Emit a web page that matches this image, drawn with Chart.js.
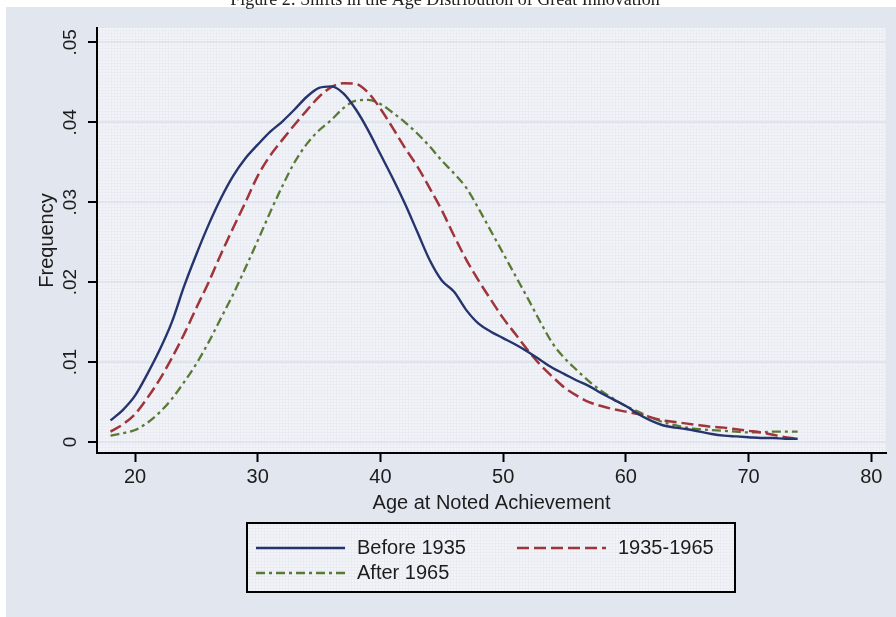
<!DOCTYPE html>
<html>
<head>
<meta charset="utf-8">
<script src="https://cdn.jsdelivr.net/npm/chart.js@4/dist/chart.umd.min.js"></script>
<style>
  html, body { margin: 0; padding: 0; background: #fff; }
</style>
</head>
<body>
<canvas id="graph" width="896" height="617"></canvas>
<script>
// ages on the x axis, one point per year
const ages = [18,19,20,21,22,23,24,25,26,27,28,29,30,31,32,33,34,35,36,37,38,39,40,41,42,43,44,45,46,
  47,48,49,50,51,52,53,54,55,56,57,58,59,60,61,62,63,64,65,66,67,68,69,70,71,72,73,74]

const before1935 = [.0027,.0040,.0058,.0085,.0115,.0150,.0195,.0235,.0272,.0305,.0333,.0355,.0372,.0388,
  .0401,.0416,.0432,.0443,.0445,.0436,.0416,.0390,.0360,.0330,.0298,.0263,.0228,.0202,.0188,.0165,.0148,
  .0138,.0130,.0122,.0113,.0103,.0093,.0085,.0077,.0070,.0061,.0053,.0045,.0035,.0027,.0021,.0018,.0016,
  .0013,.0010,.0008,.0007,.0006,.0005,.0005,.0004,.0004]

const from1935to1965 = [.0013,.0022,.0035,.0055,.0078,.0105,.0135,.0168,.0200,.0235,.0268,.0300,.0333,.0358,
  .0378,.0397,.0415,.0432,.0444,.0449,.0448,.0437,.0417,.0393,.0368,.0345,.0318,.0290,.0258,.0228,.0202,
  .0178,.0155,.0135,.0115,.0097,.0082,.0068,.0058,.0050,.0045,.0041,.0038,.0035,.0031,.0027,.0025,.0023,
  .0021,.0019,.0018,.0016,.0014,.0012,.0009,.0006,.0004]

const after1965 = [.0008,.0011,.0015,.0024,.0037,.0054,.0075,.0098,.0125,.0155,.0185,.0218,.0252,.0287,
  .0320,.0350,.0373,.0390,.0403,.0418,.0427,.0428,.0423,.0412,.0400,.0386,.0370,.0352,.0336,.0318,.0292,
  .0264,.0236,.0208,.0180,.0151,.0124,.0105,.0090,.0076,.0064,.0054,.0045,.0038,.0031,.0025,.0021,.0018,
  .0016,.0015,.0014,.0013,.0012,.0012,.0013,.0013,.0013]

const seriesLabels = ['Before 1935', '1935-1965', 'After 1965']
const xTicks = [20, 30, 40, 50, 60, 70, 80]
const yTicks = [0, .01, .02, .03, .04, .05]

const titleText = 'Figure 2: Shifts in the Age Distribution of Great Innovation'

Chart.defaults.font.family = "'Liberation Sans', Arial, sans-serif"
Chart.defaults.font.size = 20
Chart.defaults.color = '#1c1c1c'

// fine grid texture of the plot region
function makePattern(ctx) {
  let c = document.createElement('canvas')
  c.width = 3
  c.height = 3
  let p = c.getContext('2d')
  p.fillStyle = 'rgb(242,244,248)'
  p.fillRect(0, 0, 3, 3)
  p.fillStyle = 'rgb(233,236,243)'
  p.fillRect(0, 0, 1, 3)
  p.fillRect(0, 0, 3, 1)
  return ctx.createPattern(c, 'repeat')
}

const backdrop = {
  id: 'backdrop',
  beforeDraw(chart) {
    let ctx = chart.ctx
    let a = chart.chartArea
    ctx.save()
    ctx.fillStyle = '#fff'
    ctx.fillRect(0, 0, chart.width, chart.height)
    ctx.fillStyle = 'rgb(226,230,239)'
    ctx.fillRect(6, 7, chart.width - 6, chart.height - 7)
    ctx.fillStyle = makePattern(ctx)
    ctx.fillRect(a.left, a.top, a.right - a.left, a.bottom - a.top)
    // caption, cut off at the top of the picture
    ctx.fillStyle = '#222'
    ctx.font = "18px 'Liberation Serif', 'Times New Roman', serif"
    ctx.textAlign = 'center'
    ctx.textBaseline = 'alphabetic'
    ctx.fillText(titleText, 445, 5)
    ctx.restore()
  }
}

// boxed legend, two columns
const boxLegend = {
  id: 'boxLegend',
  afterDraw(chart) {
    let ctx = chart.ctx
    let spots = [[256, 548], [517, 548], [256, 573]]
    ctx.save()
    ctx.fillStyle = makePattern(ctx)
    ctx.fillRect(247, 523, 488, 69)
    ctx.strokeStyle = '#000'
    ctx.lineWidth = 2
    ctx.strokeRect(247, 523, 488, 69)
    chart.data.datasets.forEach((ds, i) => {
      let [x, y] = spots[i]
      ctx.strokeStyle = ds.borderColor
      ctx.lineWidth = ds.borderWidth
      ctx.setLineDash(ds.borderDash || [])
      ctx.beginPath()
      ctx.moveTo(x, y)
      ctx.lineTo(x + 89, y)
      ctx.stroke()
      ctx.setLineDash([])
      ctx.fillStyle = '#1c1c1c'
      ctx.font = "20px 'Liberation Sans', Arial, sans-serif"
      ctx.textAlign = 'left'
      ctx.textBaseline = 'middle'
      ctx.fillText(ds.label, x + 101, y)
    })
    ctx.restore()
  }
}

function points(values) {
  return ages.map((a, i) => ({x: a, y: values[i]}))
}

new Chart(document.getElementById('graph').getContext('2d'), {
  type: 'line',
  data: {
    datasets: [{
      label: seriesLabels[0],
      data: points(before1935),
      borderColor: 'rgb(38,52,110)',
      borderWidth: 2.4
    },
    {
      label: seriesLabels[1],
      data: points(from1935to1965),
      borderColor: 'rgb(160,52,58)',
      borderWidth: 2.5,
      borderDash: [12, 5]
    },
    {
      label: seriesLabels[2],
      data: points(after1965),
      borderColor: 'rgb(90,122,52)',
      borderWidth: 2.3,
      borderDash: [9, 4, 3, 4]
    }]
  },
  options: {
    responsive: false,
    animation: false,
    events: [],
    layout: { padding: { left: 0, right: 10, top: 28, bottom: 98 } },
    elements: {
      point: { radius: 0 },
      line: { cubicInterpolationMode: 'monotone', fill: false }
    },
    plugins: {
      legend: { display: false },
      tooltip: { enabled: false }
    },
    scales: {
      x: {
        type: 'linear',
        min: 16.9,
        max: 81.2,
        afterBuildTicks: (scale) => { scale.ticks = xTicks.map(v => ({value: v})) },
        afterFit: (scale) => { scale.height = 66 },
        grid: { drawOnChartArea: false, drawTicks: true, tickLength: 9, tickWidth: 2, tickColor: '#000' },
        border: { display: true, color: '#000', width: 2 },
        ticks: { padding: 3, maxRotation: 0, callback: (v) => String(v) },
        title: { display: true, text: 'Age at Noted Achievement', padding: { top: 0, bottom: 4 } }
      },
      y: {
        min: -0.001375,
        max: 0.0518,
        afterBuildTicks: (scale) => { scale.ticks = yTicks.map(v => ({value: v})) },
        afterFit: (scale) => { scale.width = 97 },
        grid: { color: 'rgb(224,228,237)', lineWidth: 2, tickLength: 9, tickWidth: 2, tickColor: '#000' },
        border: { display: true, color: '#000', width: 2 },
        ticks: {
          minRotation: 90,
          maxRotation: 90,
          crossAlign: 'center',
          padding: 4,
          font: { size: 19 },
          callback: (v) => v === 0 ? '0' : v.toFixed(2).replace(/^0/, '')
        },
        title: { display: true, text: 'Frequency', padding: { top: 35, bottom: 0 } }
      }
    }
  },
  plugins: [backdrop, boxLegend]
})
</script>
</body>
</html>
